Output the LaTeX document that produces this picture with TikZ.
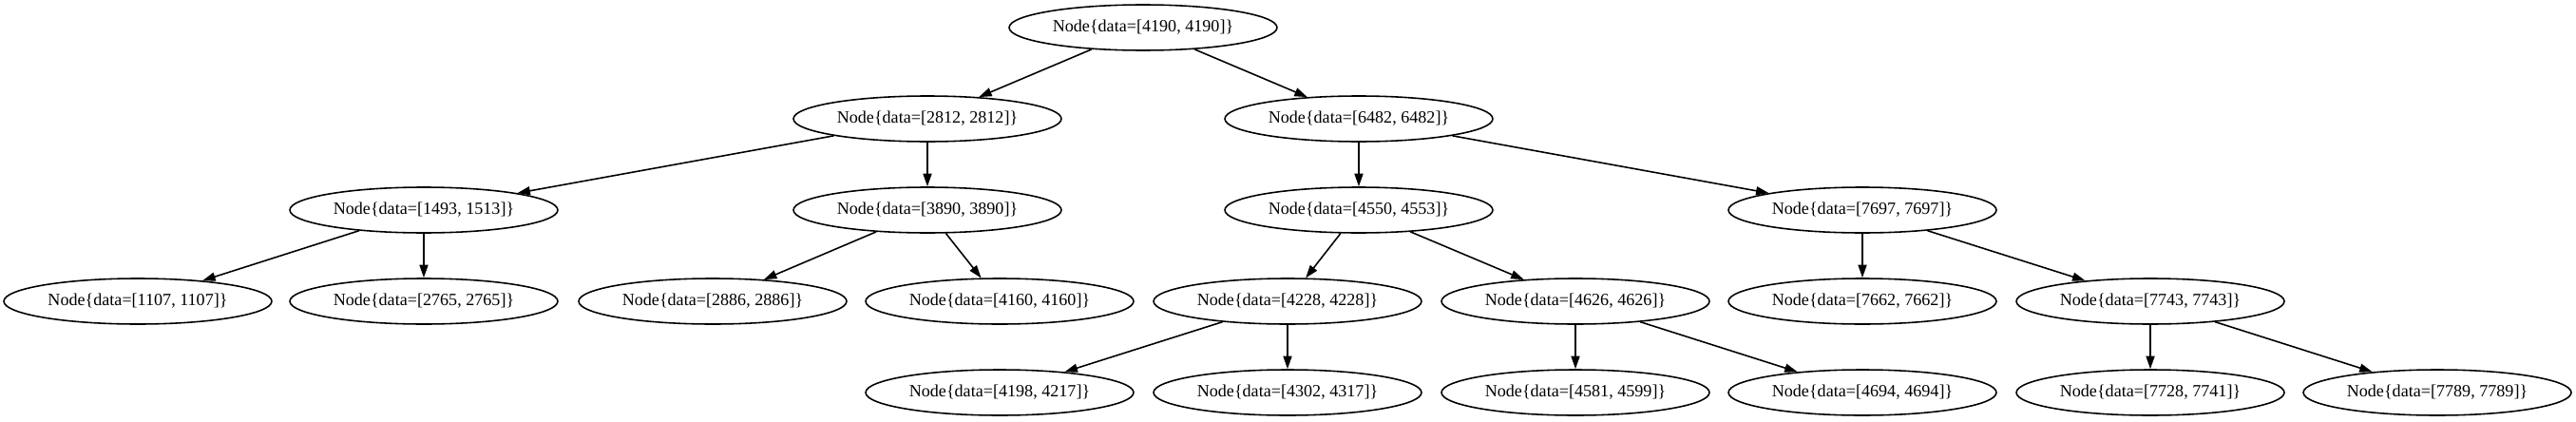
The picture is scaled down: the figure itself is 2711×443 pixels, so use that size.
\documentclass[tikz,border=0pt]{standalone}
\usepackage{fontspec}
\setmainfont{Liberation Serif}
\usetikzlibrary{arrows.meta,shapes.geometric}

\begin{document}
\begin{tikzpicture}[x=0.02cm,y=-0.02cm,line width=0.9pt,
    tree/.style={shape=ellipse,draw=black,minimum width=5.64cm,minimum height=0.96cm,
        inner sep=0pt,font=\fontsize{10.3}{12}\selectfont},
    >={Triangle[length=0.27cm,width=0.18cm]}]
    \useasboundingbox (0,0) rectangle (2711,443);
    \node[tree] (n4190) at (1203,29) {Node\{data=[4190, 4190]\}};
    \node[tree] (n2812) at (976,125) {Node\{data=[2812, 2812]\}};
    \node[tree] (n6482) at (1430,125) {Node\{data=[6482, 6482]\}};
    \node[tree] (n1493) at (446,221) {Node\{data=[1493, 1513]\}};
    \node[tree] (n3890) at (976,221) {Node\{data=[3890, 3890]\}};
    \node[tree] (n4550) at (1430,221) {Node\{data=[4550, 4553]\}};
    \node[tree] (n7697) at (1960,221) {Node\{data=[7697, 7697]\}};
    \node[tree] (n1107) at (145,317) {Node\{data=[1107, 1107]\}};
    \node[tree] (n2765) at (446,317) {Node\{data=[2765, 2765]\}};
    \node[tree] (n2886) at (750,317) {Node\{data=[2886, 2886]\}};
    \node[tree] (n4160) at (1052,317) {Node\{data=[4160, 4160]\}};
    \node[tree] (n4228) at (1355,317) {Node\{data=[4228, 4228]\}};
    \node[tree] (n4626) at (1658,317) {Node\{data=[4626, 4626]\}};
    \node[tree] (n7662) at (1960,317) {Node\{data=[7662, 7662]\}};
    \node[tree] (n7743) at (2263,317) {Node\{data=[7743, 7743]\}};
    \node[tree] (n4198) at (1052,413) {Node\{data=[4198, 4217]\}};
    \node[tree] (n4302) at (1355,413) {Node\{data=[4302, 4317]\}};
    \node[tree] (n4581) at (1658,413) {Node\{data=[4581, 4599]\}};
    \node[tree] (n4694) at (1960,413) {Node\{data=[4694, 4694]\}};
    \node[tree] (n7728) at (2263,413) {Node\{data=[7728, 7741]\}};
    \node[tree] (n7789) at (2565,413) {Node\{data=[7789, 7789]\}};
    \draw [->] (n4190) -- (n2812);
    \draw [->] (n4190) -- (n6482);
    \draw [->] (n2812) -- (n1493);
    \draw [->] (n2812) -- (n3890);
    \draw [->] (n1493) -- (n1107);
    \draw [->] (n1493) -- (n2765);
    \draw [->] (n3890) -- (n2886);
    \draw [->] (n3890) -- (n4160);
    \draw [->] (n6482) -- (n4550);
    \draw [->] (n6482) -- (n7697);
    \draw [->] (n4550) -- (n4228);
    \draw [->] (n4550) -- (n4626);
    \draw [->] (n4228) -- (n4198);
    \draw [->] (n4228) -- (n4302);
    \draw [->] (n4626) -- (n4581);
    \draw [->] (n4626) -- (n4694);
    \draw [->] (n7697) -- (n7662);
    \draw [->] (n7697) -- (n7743);
    \draw [->] (n7743) -- (n7728);
    \draw [->] (n7743) -- (n7789);
\end{tikzpicture}
\end{document}
